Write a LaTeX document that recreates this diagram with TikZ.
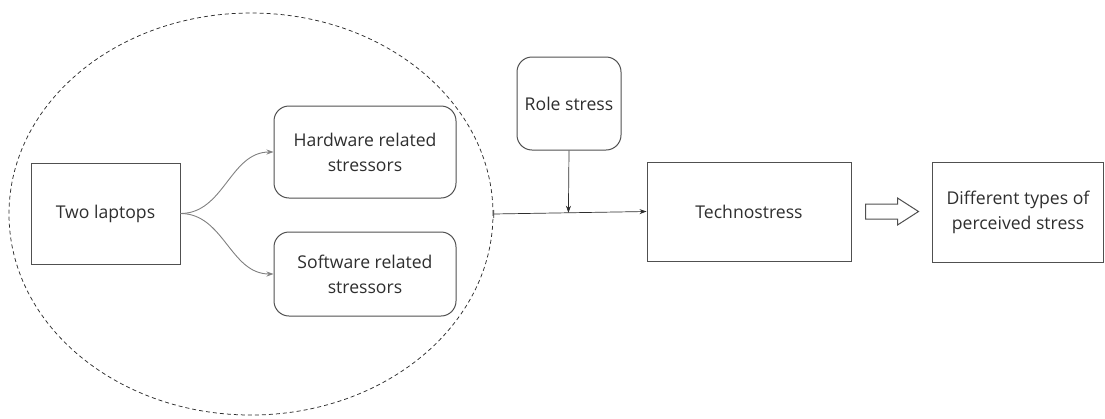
\documentclass[tikz,border=0pt]{standalone}
\usepackage{fontspec}
\setmainfont{Open Sans}
\usetikzlibrary{arrows.meta,shapes.geometric,calc}
\definecolor{ink}{HTML}{2E2E2E}
\definecolor{edge}{HTML}{505050}
\definecolor{soft}{HTML}{808080}
\begin{document}
\begin{tikzpicture}[x=1pt,y=-1pt,
  every node/.style={font=\fontsize{17.6}{25}\selectfont, text=ink, align=center, inner sep=0pt},
  plainbox/.style={draw=edge, line width=1pt},
  roundbox/.style={draw=edge, line width=1pt, rounded corners=15pt},
  flow/.style={draw=ink, line width=0.7pt, -{Stealth[length=7pt,width=5pt]}},
  branch/.style={draw=soft, line width=0.9pt, -{Stealth[length=7pt,width=5pt]}}]
  \useasboundingbox (0,0) rectangle (1105,418);

  % dashed grouping ellipse
  \node[ellipse, draw=ink, dash pattern=on 4pt off 3pt, line width=0.75pt,
        minimum width=484pt, minimum height=402pt] (grp) at (251,214) {};

  \node[plainbox, minimum width=149pt, minimum height=101pt] (laptops) at (105.5,213.5) {Two laptops};
  \node[roundbox, minimum width=182pt, minimum height=92pt] (hw) at (365,152) {Hardware related\\stressors};
  \node[roundbox, minimum width=182pt, minimum height=84pt] (sw) at (365,274) {Software related\\stressors};
  \node[roundbox, minimum width=104pt, minimum height=93pt] (role) at (569,103.5) {Role stress};
  \node[plainbox, minimum width=204pt, minimum height=99pt] (techno) at (749,211.5) {Technostress};
  \node[plainbox, minimum width=171pt, minimum height=100pt] (diff) at (1018,212) {Different types of\\perceived stress};

  % branches from the laptops
  \draw[branch] (laptops.east) to[out=0,in=180] (hw.west);
  \draw[branch] (laptops.east) to[out=0,in=180] (sw.west);

  % main flow into technostress
  \draw[flow, {Bar[width=8pt]}-{Stealth[length=7pt,width=5pt]}] (grp.east) -- (techno.west);
  \coordinate (meet) at ($(grp.east)!0.49!(techno.west)$);
  \draw[flow] (role.south) -- (meet);

  % hollow block arrow
  \draw[draw=edge, line width=1pt, fill=white]
    ([xshift=14pt,yshift=-7.5pt]techno.east) -- ++(32pt,0) -- ++(0,-6pt) -- ++(21pt,13.5pt)
    -- ++(-21pt,13.5pt) -- ++(0,-6pt) -- ++(-32pt,0) -- cycle;
\end{tikzpicture}
\end{document}
